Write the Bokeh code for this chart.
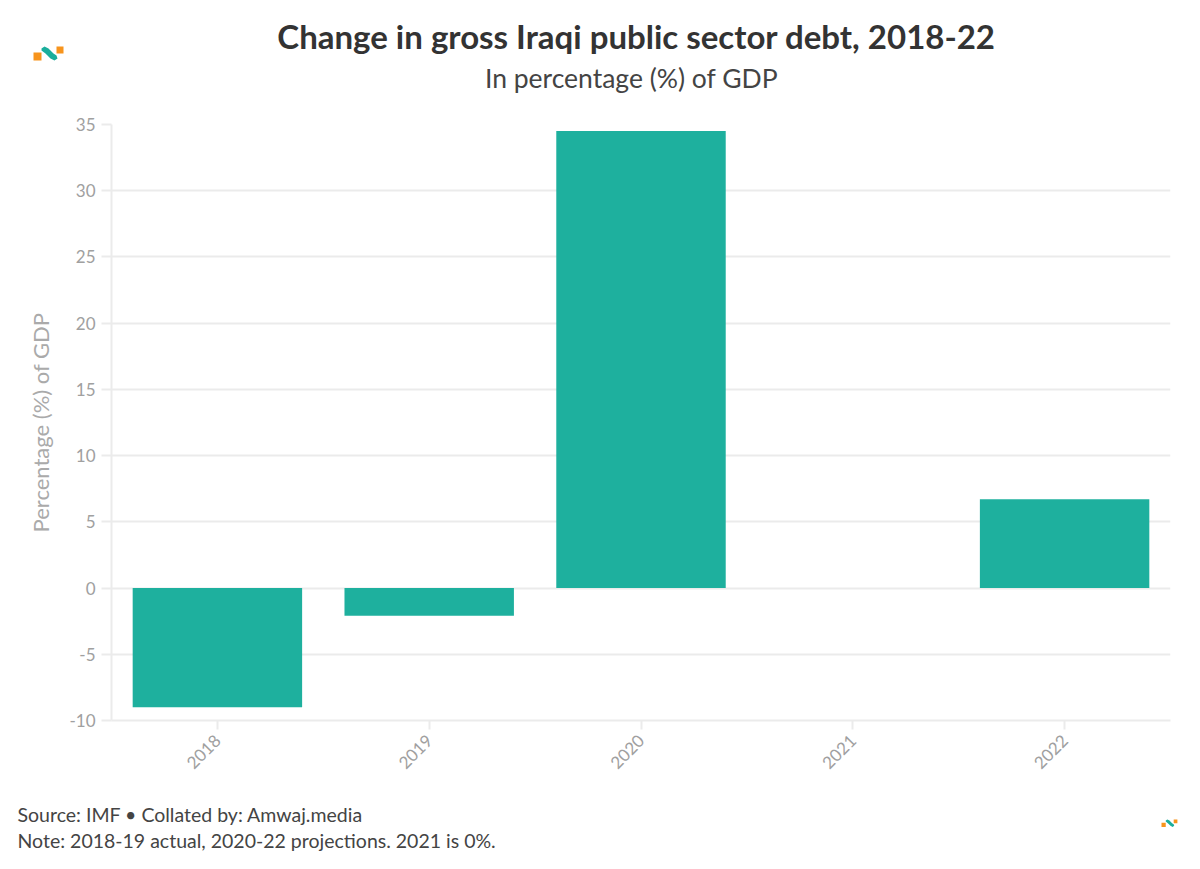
from bokeh.plotting import figure
from bokeh.layouts import column, row
from bokeh.models import Range1d, FactorRange, FixedTicker, CustomJSTickFormatter
from bokeh.core.properties import value
from bokeh.embed import file_html
from bokeh.resources import INLINE
from math import pi

years = ["2018", "2019", "2020", "2021", "2022"]
change = [-9.0, -2.1, 34.5, 0.0, 6.7]
y_ticks = [-10, -5, 0, 5, 10, 15, 20, 25, 30, 35]

title_text = "Change in gross Iraqi public sector debt, 2018-22"
subtitle_text = "In percentage (%) of GDP"
y_label = "Percentage (%) of GDP"
source_text = "Source: IMF \u2022 Collated by: Amwaj.media"
note_text = "Note: 2018-19 actual, 2020-22 projections. 2021 is 0%."

FONT = "Lato"
BAR = "#1aae9c"
ORANGE = "#f7941d"
GRID = "#ebebeb"
TICK = "#a0a0a0"
W = 1184
HEAD_H = 114
MAIN_H = 676
FOOT_H = 79


def blank(h):
    f = figure(width=W, height=h, x_range=Range1d(0, W), y_range=Range1d(h, 0),
               x_axis_type=None, y_axis_type=None, output_backend="svg", toolbar_location=None,
               min_border=0, min_border_left=0, min_border_right=0, min_border_top=0,
               min_border_bottom=0)
    f.outline_line_color = None
    f.xgrid.visible = False
    f.ygrid.visible = False
    return f


sq1 = [(0, 6), (8, 6), (8, 14), (0, 14)]
sq2 = [(23, 0), (30, 0), (30, 7), (23, 7)]
wave = [(8, 2), (11, 0), (15, 2), (20, 7), (23, 9), (24, 12), (21, 14), (17, 12), (12, 7), (8, 4)]


def logo(f, ox, oy, s):
    xs, ys, cs = [], [], []
    for pts, col in ((sq1, ORANGE), (sq2, ORANGE), (wave, BAR)):
        xs.append([ox + s * a for a, b in pts])
        ys.append([oy + s * b for a, b in pts])
        cs.append(col)
    f.patches(xs, ys, fill_color=cs, line_color=None)


# header
head = blank(HEAD_H)
head.text(x=[636], y=[35], text=[title_text], text_font=value(FONT), text_font_size="33px",
          text_font_style="bold", text_color="#333333", text_align="center",
          text_baseline="alphabetic")
head.text(x=[631], y=[77], text=[subtitle_text], text_font=value(FONT), text_font_size="26.5px",
          text_color="#444444", text_align="center", text_baseline="alphabetic")
logo(head, 33, 46, 1.0)

# main chart
p = figure(width=W, height=MAIN_H, x_range=FactorRange(*years), y_range=Range1d(-10, 35),
           output_backend="svg", toolbar_location=None,
           min_border_left=111, min_border_right=W - 1170, min_border_top=10,
           min_border_bottom=MAIN_H - 10 - 596)
p.outline_line_color = None

p.vbar(x=years, top=change, bottom=0, width=0.8, fill_color=BAR, line_color=None, fill_alpha=0.98)

p.xgrid.grid_line_color = None
p.ygrid.grid_line_color = GRID
p.ygrid.grid_line_width = 2
p.yaxis.ticker = FixedTicker(ticks=y_ticks)
p.yaxis.formatter = CustomJSTickFormatter(code="return tick.toString();")

for ax in (p.xaxis[0], p.yaxis[0]):
    ax.axis_line_color = GRID
    ax.axis_line_width = 2
    ax.major_tick_line_color = GRID
    ax.major_tick_line_width = 2
    ax.minor_tick_line_color = None
    ax.major_tick_in = 0
    ax.major_label_text_font = FONT
    ax.major_label_text_color = TICK
    ax.major_label_text_font_size = "17px"

p.yaxis.major_tick_out = 10
p.yaxis.major_label_standoff = 6
p.xaxis.major_tick_out = 9
p.xaxis.major_label_orientation = pi / 4
p.xaxis.major_label_standoff = 8
p.yaxis.axis_label = y_label
p.yaxis.axis_label_text_font = FONT
p.yaxis.axis_label_text_font_style = "normal"
p.yaxis.axis_label_text_font_size = "22px"
p.yaxis.axis_label_text_color = "#aaaaaa"
p.yaxis.axis_label_standoff = 12

# footer
foot = blank(FOOT_H)
foot.text(x=[17, 17], y=[23.5, 49.5], text=[source_text, note_text], text_font=value(FONT),
          text_font_size="19.5px", text_color="#444444", text_align="left",
          text_baseline="alphabetic")
logo(foot, 1161, 29, 0.53)

layout = column(row(head), p, row(foot), spacing=0)
open("out.html", "w").write(file_html(layout, INLINE))
